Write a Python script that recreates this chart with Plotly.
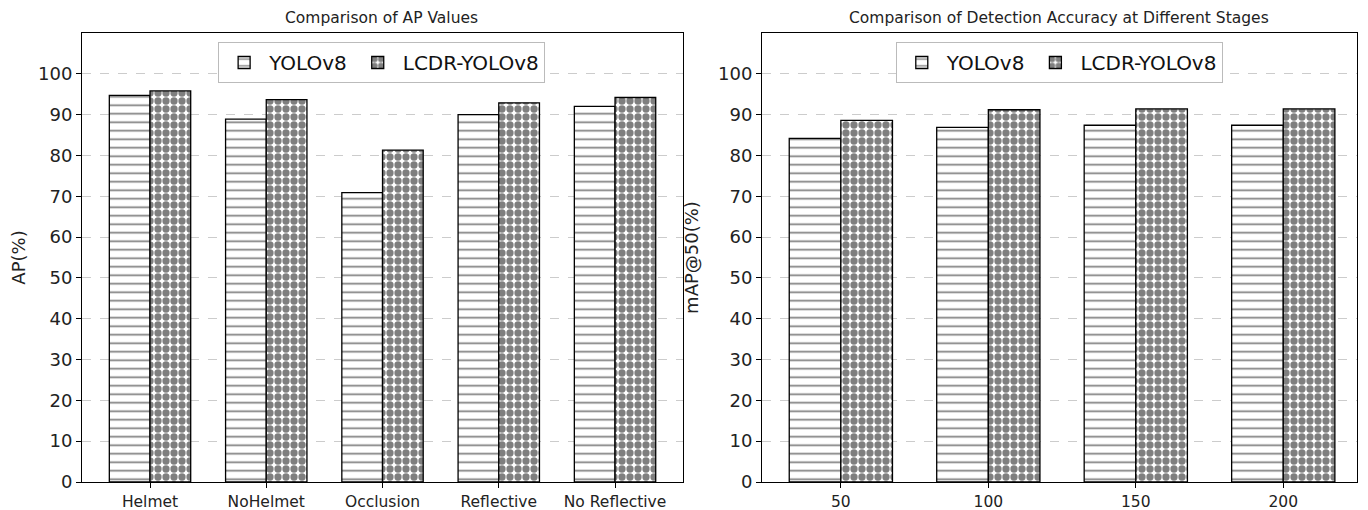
import plotly.graph_objects as go

ap_categories = ["Helmet", "NoHelmet", "Occlusion", "Reflective", "No Reflective"]
ap_yolov8 = [94.7, 88.9, 70.9, 90.0, 92.0]
ap_lcdr = [95.8, 93.7, 81.3, 92.9, 94.2]

stage_categories = ["50", "100", "150", "200"]
stage_yolov8 = [84.2, 86.9, 87.4, 87.4]
stage_lcdr = [88.6, 91.2, 91.4, 91.4]

y_ticks = list(range(0, 101, 10))

FONT = "DejaVu Sans"
pat_h = dict(shape="-", fgcolor="black", bgcolor="white", size=8.5, solidity=0.2, fillmode="overlay")
pat_d = dict(shape=".", fgcolor="black", bgcolor="white", size=8, solidity=0.65, fillmode="overlay")

fig = go.Figure()

def add(xcats, vals, name, pat, xa, ya, legend):
    fig.add_trace(go.Bar(
        x=xcats, y=vals, name=name, xaxis=xa, yaxis=ya, legend=legend,
        marker=dict(color="white", pattern=pat, line=dict(color="black", width=1.3)),
    ))

add(ap_categories, ap_yolov8, "YOLOv8", pat_h, "x", "y", "legend")
add(ap_categories, ap_lcdr, "LCDR-YOLOv8", pat_d, "x", "y", "legend")
add(stage_categories, stage_yolov8, "YOLOv8", pat_h, "x2", "y2", "legend2")
add(stage_categories, stage_lcdr, "LCDR-YOLOv8", pat_d, "x2", "y2", "legend2")

axis_common = dict(showline=True, linecolor="black", linewidth=1, mirror=True,
                   ticks="outside", ticklen=5, tickcolor="black", automargin=False)
yaxis_common = dict(axis_common, range=[0, 110], tickvals=y_ticks,
                    showgrid=True, gridcolor="#cccccc", griddash="dash", gridwidth=1,
                    zeroline=False, tickfont=dict(size=18, color="#222"))

leg_common = dict(orientation="h", xanchor="center", yanchor="top",
                  bordercolor="#bbbbbb", borderwidth=1, bgcolor="white",
                  font=dict(size=20, family=FONT, color="#111"),
                  itemwidth=40, tracegroupgap=0)

fig.update_layout(
    width=1360, height=502,
    margin=dict(l=74, r=11, t=25, b=28),
    paper_bgcolor="white", plot_bgcolor="white",
    font=dict(family=FONT, color="#222"),
    barmode="group", bargap=0.3, bargroupgap=0,
    xaxis=dict(axis_common, domain=[0, 0.4714], range=[-0.585, 4.585],
               tickfont=dict(size=15.5, color="#222"), showgrid=False),
    yaxis=dict(yaxis_common, title=dict(text="AP(%)", font=dict(size=18), standoff=14)),
    xaxis2=dict(axis_common, domain=[0.5333, 1], range=[-0.535, 3.5],
                tickfont=dict(size=15.5, color="#222"), showgrid=False, anchor="y2"),
    yaxis2=dict(yaxis_common, anchor="x2", title=dict(text="mAP@50(%)", font=dict(size=18), standoff=14)),
    legend=dict(leg_common, x=0.235, y=0.98),
    legend2=dict(leg_common, x=0.7665, y=0.98),
    annotations=[
        dict(text="Comparison of AP Values", x=0.235, y=1.033, xref="paper", yref="paper",
             showarrow=False, xanchor="center", yanchor="middle", font=dict(size=15.5, color="#222")),
        dict(text="Comparison of Detection Accuracy at Different Stages", x=0.7665, y=1.033,
             xref="paper", yref="paper", showarrow=False, xanchor="center", yanchor="middle",
             font=dict(size=15.5, color="#222")),
    ],
)

fig.write_html("out.html")
